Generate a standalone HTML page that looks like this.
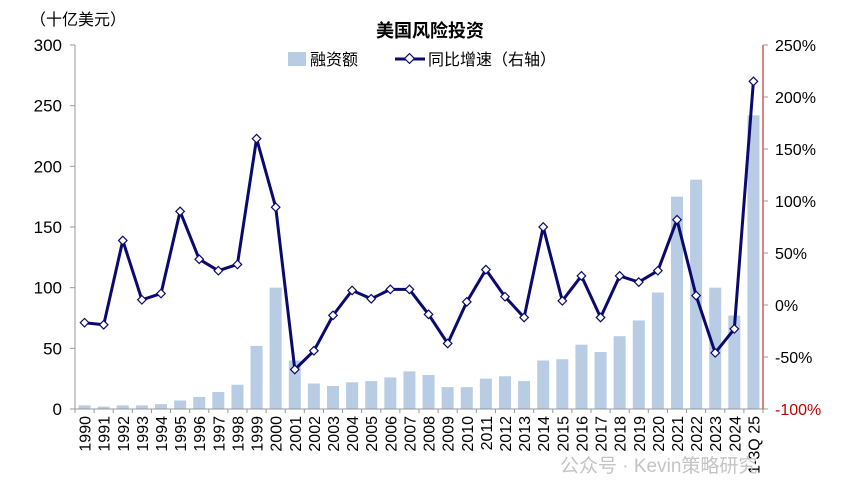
<!DOCTYPE html>
<html><head><meta charset="utf-8"><style>
html,body{margin:0;padding:0;background:#fff;}
svg{display:block;font-family:"Liberation Sans","Noto Sans CJK SC",sans-serif;}
</style></head><body>
<svg id="c" width="855" height="499" viewBox="0 0 855 499" xmlns="http://www.w3.org/2000/svg">
<text x="30" y="25" font-size="16" fill="#000">（十亿美元）</text>
<text x="430" y="37" font-size="18" font-weight="bold" text-anchor="middle" fill="#000">美国风险投资</text>
<rect x="288" y="52" width="18" height="14" fill="#b8cce4"/>
<text x="310" y="65" font-size="16">融资额</text>
<line x1="395" y1="59" x2="425" y2="59" stroke="#0a0a6e" stroke-width="3"/>
<rect x="406" y="55" width="7" height="7" transform="rotate(45 409.5 58.5)" fill="#fff" stroke="#0a0a6e" stroke-width="1.2"/>
<text x="428" y="65" font-size="16">同比增速（右轴）</text>
<g id="g"></g>
<text x="560" y="472" font-size="19" fill="#c4c4c4">公众号 · Kevin策略研究</text>
</svg>
<script>
var bars=[3,2,3,3,4,7,10,14,20,52,100,40,21,19,22,23,26,31,28,18,18,25,27,23,40,41,53,47,60,73,96,175,189,100,77,242];
var gr=[-17,-19,62,5,11,90,44,33,39,160,94,-62,-44,-10,14,6,15,15,-9,-37,3,34,8,-12,75,4,28,-12,28,22,33,82,9,-46,-23,215];
var lab=[];for(var y=1990;y<=2024;y++)lab.push(""+y);lab.push("1-3Q 25");
var s="";var L=75,R=763,B=409,T=45;var w=(R-L)/36;
for(var i=0;i<36;i++){var cx=L+w*(i+0.5);var h=bars[i]*364/300;
s+='<rect x="'+(cx-6)+'" y="'+(B-h)+'" width="12" height="'+h+'" fill="#b8cce4"/>';}
s+='<line x1="'+L+'" y1="'+T+'" x2="'+L+'" y2="'+B+'" stroke="#999"/>';
s+='<line x1="'+L+'" y1="'+B+'" x2="'+R+'" y2="'+B+'" stroke="#999"/>';
s+='<line x1="'+R+'" y1="'+T+'" x2="'+R+'" y2="'+B+'" stroke="#c00000"/>';
for(var k=0;k<=6;k++){var y=B-k*50*364/300;s+='<line x1="'+(L-5)+'" y1="'+y+'" x2="'+L+'" y2="'+y+'" stroke="#999"/>';
s+='<text x="62" y="'+(y+6)+'" font-size="17" text-anchor="end">'+(k*50)+'</text>';}
for(var k=0;k<=7;k++){var p=-100+k*50;var y=B-k*52;s+='<line x1="'+R+'" y1="'+y+'" x2="'+(R+5)+'" y2="'+y+'" stroke="#999"/>';
s+='<text x="775" y="'+(y+6)+'" font-size="16" fill="'+(p==-100?'#c00000':'#000')+'">'+p+'%</text>';}
for(var i=0;i<=36;i++){var x=L+w*i;s+='<line x1="'+x+'" y1="'+B+'" x2="'+x+'" y2="'+(B+4)+'" stroke="#999"/>';}
for(var i=0;i<36;i++){var cx=L+w*(i+0.5);
s+='<text transform="translate('+(cx+6)+',416) rotate(-90)" font-size="16" text-anchor="end">'+lab[i]+'</text>';}
var pts=[];for(var i=0;i<36;i++){pts.push((L+w*(i+0.5)).toFixed(1)+','+(305-gr[i]*1.04).toFixed(1));}
s+='<polyline points="'+pts.join(' ')+'" fill="none" stroke="#0a0a6e" stroke-width="3" stroke-linejoin="round"/>';
for(var i=0;i<36;i++){var x=L+w*(i+0.5),y=305-gr[i]*1.04;
s+='<rect x="'+(x-3)+'" y="'+(y-3)+'" width="6" height="6" transform="rotate(45 '+x+' '+y+')" fill="#fff" stroke="#0a0a6e" stroke-width="1.2"/>';}
document.getElementById('g').innerHTML=s;
</script>
</body></html>
